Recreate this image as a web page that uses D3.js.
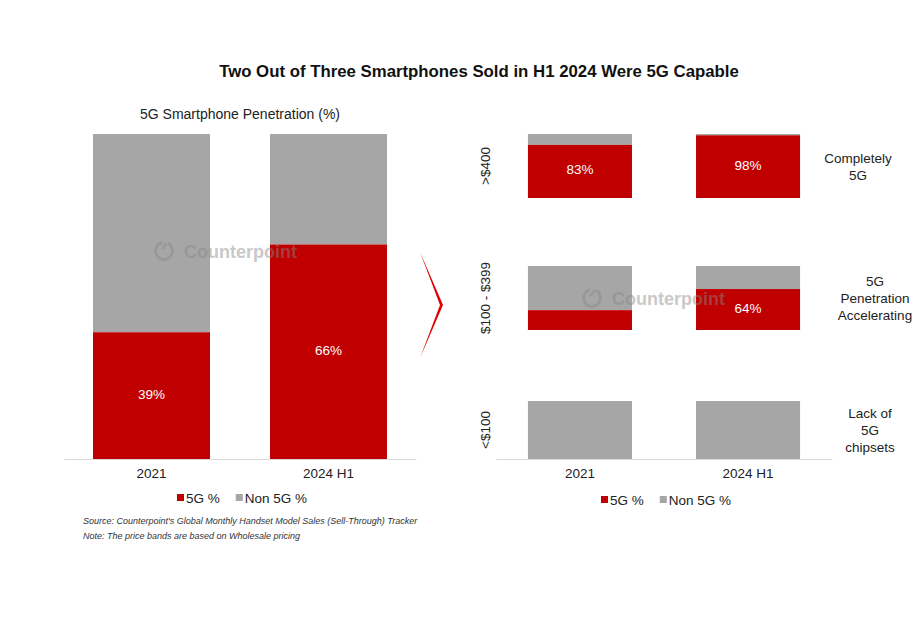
<!DOCTYPE html>
<html><head><meta charset="utf-8">
<script src="https://cdn.jsdelivr.net/npm/d3@7"></script>
<style>body{margin:0;background:#fff}svg{display:block;font-family:"Liberation Sans",Arial,sans-serif}</style>
</head><body>
<script>
const title = "Two Out of Three Smartphones Sold in H1 2024 Were 5G Capable";
const subtitle = "5G Smartphone Penetration (%)";
const years = ["2021", "2024 H1"];
const overall5G = [39, 66];
const bands = [">$400", "$100 - $399", "<$100"];
const band5G_2021 = [83, 31, 0];
const band5G_2024 = [98, 64, 0];
const bandNotes = [["Completely", "5G"], ["5G", "Penetration", "Accelerating"], ["Lack of", "5G", "chipsets"]];
const seriesNames = ["5G %", "Non 5G %"];
const sourceLines = ["Source: Counterpoint's Global Monthly Handset Model Sales (Sell-Through) Tracker", "Note: The price bands are based on Wholesale pricing"];

const RED = "#C00000", GREY = "#A6A6A6", AXIS = "#D9D9D9", TXT = "#222";
const W = 922, H = 630;
const svg = d3.select("body").append("svg").attr("width", W).attr("height", H);

svg.append("text").attr("x", 479).attr("y", 77).attr("text-anchor", "middle")
  .attr("font-weight", "bold").attr("font-size", 16.8).attr("fill", "#111").text(title);

// ---------- Left chart ----------
svg.append("text").attr("x", 240).attr("y", 119).attr("text-anchor", "middle")
  .attr("font-size", 14).attr("fill", TXT).text(subtitle);

const xL = d3.scaleBand().domain(years).range([64, 416]).paddingInner(0.339).paddingOuter(0.164);
const yL = d3.scaleLinear().domain([0, 100]).range([459, 134]);
const gL = svg.append("g");
years.forEach((yr, i) => {
  const v = overall5G[i];
  gL.append("rect").attr("x", xL(yr)).attr("width", xL.bandwidth())
    .attr("y", yL(100)).attr("height", yL(v) - yL(100)).attr("fill", GREY);
  gL.append("rect").attr("x", xL(yr)).attr("width", xL.bandwidth())
    .attr("y", yL(v)).attr("height", yL(0) - yL(v)).attr("fill", RED);
  gL.append("text").attr("x", xL(yr) + xL.bandwidth() / 2).attr("y", (yL(v) + yL(0)) / 2 + 3)
    .attr("text-anchor", "middle").attr("font-size", 13.5).attr("fill", "#fff").text(v + "%");
});
const axL = svg.append("g").attr("transform", "translate(0,459)")
  .call(d3.axisBottom(xL).tickSize(0).tickPadding(9));
axL.select(".domain").attr("stroke", AXIS).attr("stroke-width", 1.2);
axL.selectAll("text").attr("font-size", 13.5).attr("fill", TXT).attr("font-family", "Liberation Sans, Arial, sans-serif");

function legend(x, y) {
  const g = svg.append("g").attr("transform", `translate(${x},${y})`);
  let cx = 0;
  seriesNames.forEach((n, i) => {
    g.append("rect").attr("x", cx).attr("y", -9).attr("width", 7).attr("height", 7).attr("fill", i ? GREY : RED);
    const t = g.append("text").attr("x", cx + 9).attr("y", 0).attr("font-size", 13.5).attr("fill", TXT).text(n);
    cx += 9 + t.node().getComputedTextLength() + 16;
  });
}
legend(177, 503);

sourceLines.forEach((s, i) => {
  svg.append("text").attr("x", 83).attr("y", 524 + i * 15).attr("font-size", 9)
    .attr("font-style", "italic").attr("fill", "#333").text(s);
});

// ---------- Arrow ----------
svg.append("path").attr("d", "M420,252 L443,305 L420,358 L440,305 Z").attr("fill", "#E00000");

// ---------- Right chart ----------
const xR = d3.scaleBand().domain(years).range([496, 832]).paddingInner(0.381).paddingOuter(0.19);
const panelTops = [134, 266, 401];
const panelBottoms = [198, 330, 459];
const gR = svg.append("g");
bands.forEach((b, r) => {
  const y = d3.scaleLinear().domain([0, 100]).range([panelBottoms[r], panelTops[r]]);
  const vals = [band5G_2021[r], band5G_2024[r]];
  years.forEach((yr, i) => {
    const v = vals[i];
    gR.append("rect").attr("x", xR(yr)).attr("width", xR.bandwidth())
      .attr("y", y(100)).attr("height", y(v) - y(100)).attr("fill", GREY);
    if (v > 0) gR.append("rect").attr("x", xR(yr)).attr("width", xR.bandwidth())
      .attr("y", y(v)).attr("height", y(0) - y(v)).attr("fill", RED);
    if (v >= 50) gR.append("text").attr("x", xR(yr) + xR.bandwidth() / 2).attr("y", (y(v) + y(0)) / 2 + 3)
      .attr("text-anchor", "middle").attr("font-size", 13.5).attr("fill", "#fff").text(v + "%");
  });
  const cy = (panelTops[r] + panelBottoms[r]) / 2;
  svg.append("text").attr("transform", `translate(490,${cy}) rotate(-90)`)
    .attr("text-anchor", "middle").attr("font-size", 13.5).attr("fill", TXT).text(b);
  const notes = bandNotes[r];
  const nx = [858, 875, 870][r];
  const t = svg.append("text").attr("text-anchor", "middle").attr("font-size", 13.5).attr("fill", TXT);
  const startY = cy - (notes.length - 1) * 17 / 2 + 5;
  notes.forEach((n, k) => t.append("tspan").attr("x", nx).attr("y", startY + k * 17).text(n));
});
const axR = svg.append("g").attr("transform", "translate(0,459)")
  .call(d3.axisBottom(xR).tickSize(0).tickPadding(9));
axR.select(".domain").attr("stroke", AXIS).attr("stroke-width", 1.2);
axR.selectAll("text").attr("font-size", 13.5).attr("fill", TXT).attr("font-family", "Liberation Sans, Arial, sans-serif");
legend(601, 505);

// ---------- Watermarks ----------
function watermark(x, y) {
  const g = svg.append("g").attr("transform", `translate(${x},${y})`).attr("opacity", 0.45);
  g.append("path").attr("d", d3.arc()({innerRadius: 7, outerRadius: 10, startAngle: 0.5, endAngle: 2 * Math.PI - 0.2}))
    .attr("fill", "#888");
  g.append("line").attr("x1", -2).attr("y1", -2).attr("x2", 3).attr("y2", -8).attr("stroke", "#888").attr("stroke-width", 2.5);
  g.append("text").attr("x", 20).attr("y", 7).attr("font-size", 18).attr("font-weight", "bold").attr("fill", "#888").text("Counterpoint");
}
watermark(164, 251);
watermark(592, 298);
</script>
</body></html>
